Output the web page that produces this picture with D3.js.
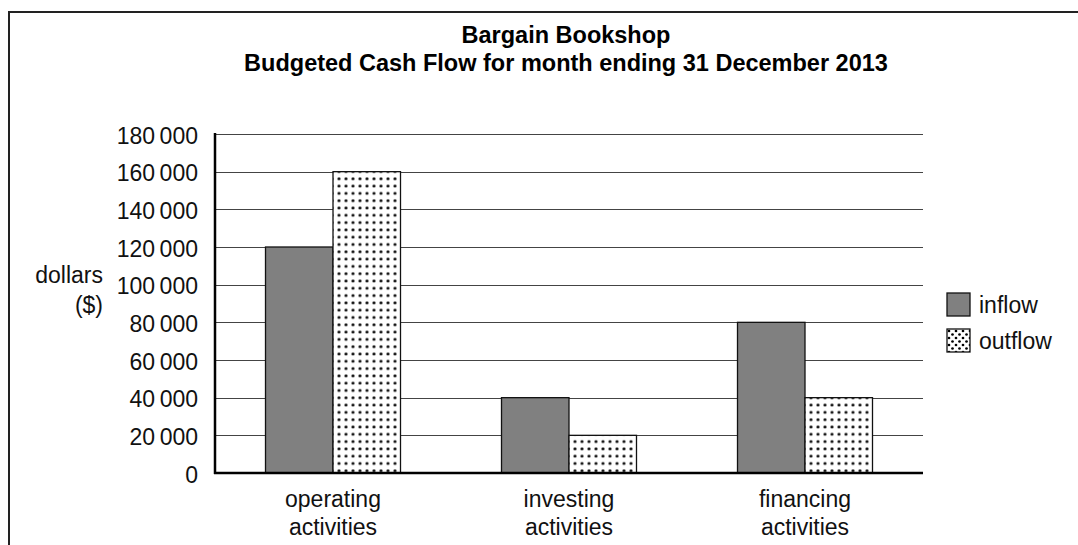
<!DOCTYPE html>
<html lang="en">

<head>
    <meta charset="UTF-8">
    <title>Bargain Bookshop</title>
    <script src="https://d3js.org/d3.v7.min.js"></script>
    <style>
        body { margin: 0; background: #fff; }
        svg { display: block; font-family: "Liberation Sans", Arial, sans-serif; }
    </style>
</head>

<body>
    <div id="chart"></div>

    <script>
        // data
        const categories = [["operating", "activities"], ["investing", "activities"], ["financing", "activities"]];
        const inflow = [120000, 40000, 80000];
        const outflow = [160000, 20000, 40000];
        const yTicks = [0, 20000, 40000, 60000, 80000, 100000, 120000, 140000, 160000, 180000];
        const seriesNames = ["inflow", "outflow"];

        const width = 1078;
        const height = 545;
        const plot = { left: 215, right: 923, top: 134, bottom: 473 };
        const fontSize = 23;

        const svg = d3.select("#chart")
            .append("svg")
            .attr("width", width)
            .attr("height", height);

        // dotted fill for the outflow bars
        const defs = svg.append("defs");
        const pat = defs.append("pattern")
            .attr("id", "dots")
            .attr("patternUnits", "userSpaceOnUse")
            .attr("width", 7)
            .attr("height", 7.3);
        pat.append("rect").attr("width", 7).attr("height", 7.3).attr("fill", "#fff");
        pat.append("circle").attr("cx", 3.5).attr("cy", 3.6).attr("r", 1.45).attr("fill", "#000");

        const legPat = defs.append("pattern")
            .attr("id", "dotsLegend")
            .attr("patternUnits", "userSpaceOnUse")
            .attr("width", 7)
            .attr("height", 7);
        legPat.append("rect").attr("width", 7).attr("height", 7).attr("fill", "#fff");
        legPat.append("circle").attr("cx", 2).attr("cy", 2).attr("r", 1.35).attr("fill", "#000");
        legPat.append("circle").attr("cx", 5.5).attr("cy", 5.5).attr("r", 1.35).attr("fill", "#000");

        // frame (left and top only, rest runs off the page)
        svg.append("path")
            .attr("d", `M9,${height + 5} L9,12 L${width + 5},12`)
            .attr("fill", "none")
            .attr("stroke", "#222")
            .attr("stroke-width", 2);

        // title
        const title = svg.append("text")
            .attr("text-anchor", "middle")
            .attr("font-weight", "bold")
            .attr("font-size", 23.5)
            .attr("fill", "#000");
        title.append("tspan").attr("x", 566).attr("y", 43).text("Bargain Bookshop");
        title.append("tspan").attr("x", 566).attr("y", 71).text("Budgeted Cash Flow for month ending 31 December 2013");

        // scales
        const y = d3.scaleLinear()
            .domain([0, 180000])
            .range([plot.bottom, plot.top]);

        const x0 = d3.scaleBand()
            .domain(d3.range(categories.length))
            .range([plot.left, plot.right])
            .paddingInner(0.428)
            .paddingOuter(0.214);

        const x1 = d3.scaleBand()
            .domain(seriesNames)
            .range([0, x0.bandwidth()]);

        const locale = d3.formatLocale({ decimal: ".", thousands: "\u2009", grouping: [3], currency: ["$", ""] });
        const fmt = locale.format(",");

        // gridlines
        svg.append("g")
            .selectAll("line")
            .data(yTicks.filter(d => d > 0))
            .join("line")
            .attr("x1", plot.left)
            .attr("x2", plot.right)
            .attr("y1", d => Math.round(y(d)) + 0.5)
            .attr("y2", d => Math.round(y(d)) + 0.5)
            .attr("stroke", "#444")
            .attr("stroke-width", 1.2);

        // y axis labels
        const yAxis = svg.append("g")
            .attr("transform", `translate(${plot.left},0)`)
            .call(d3.axisLeft(y).tickValues(yTicks).tickFormat(fmt).tickSize(0).tickPadding(17));
        yAxis.select(".domain").remove();
        yAxis.selectAll("text")
            .attr("font-size", fontSize)
            .attr("font-family", "Liberation Sans, Arial, sans-serif")
            .attr("fill", "#111")
            .attr("dy", "0.4em");

        // axis title
        svg.append("text")
            .attr("x", 103).attr("y", 283)
            .attr("text-anchor", "end")
            .attr("font-size", fontSize)
            .attr("fill", "#111")
            .text("dollars");
        svg.append("text")
            .attr("x", 103).attr("y", 313)
            .attr("text-anchor", "end")
            .attr("font-size", fontSize)
            .attr("fill", "#111")
            .text("($)");

        // bars
        const groups = svg.append("g")
            .selectAll("g")
            .data(categories.map((c, i) => ({ i, values: [inflow[i], outflow[i]] })))
            .join("g")
            .attr("transform", d => `translate(${x0(d.i)},0)`);

        groups.selectAll("rect")
            .data(d => d.values.map((v, k) => ({ key: seriesNames[k], value: v })))
            .join("rect")
            .attr("x", d => x1(d.key))
            .attr("y", d => y(d.value))
            .attr("width", x1.bandwidth())
            .attr("height", d => y(0) - y(d.value))
            .attr("fill", d => d.key === "inflow" ? "#808080" : "url(#dots)")
            .attr("stroke", "#111")
            .attr("stroke-width", 1.3);

        // axes lines
        svg.append("line")
            .attr("x1", plot.left).attr("x2", plot.left)
            .attr("y1", plot.top - 1).attr("y2", plot.bottom + 1)
            .attr("stroke", "#000").attr("stroke-width", 2.5);
        svg.append("line")
            .attr("x1", plot.left - 1).attr("x2", plot.right)
            .attr("y1", plot.bottom).attr("y2", plot.bottom)
            .attr("stroke", "#000").attr("stroke-width", 2.5);

        // category labels
        const catLabels = svg.append("g")
            .selectAll("text")
            .data(categories)
            .join("text")
            .attr("text-anchor", "middle")
            .attr("font-size", fontSize)
            .attr("fill", "#111");
        catLabels.each(function (d, i) {
            const cx = x0(i) + x0.bandwidth() / 2;
            d3.select(this).selectAll("tspan")
                .data(d)
                .join("tspan")
                .attr("x", cx)
                .attr("y", (t, k) => 507 + k * 28)
                .text(t => t);
        });

        // legend
        const legend = svg.append("g")
            .selectAll("g")
            .data(seriesNames)
            .join("g")
            .attr("transform", (d, i) => `translate(947,${293 + i * 36})`);
        legend.append("rect")
            .attr("width", 23)
            .attr("height", 23)
            .attr("fill", d => d === "inflow" ? "#808080" : "url(#dotsLegend)")
            .attr("stroke", "#111")
            .attr("stroke-width", 1.3);
        legend.append("text")
            .attr("x", 32)
            .attr("y", 20)
            .attr("font-size", fontSize)
            .attr("fill", "#111")
            .text(d => d);
    </script>
</body>

</html>
